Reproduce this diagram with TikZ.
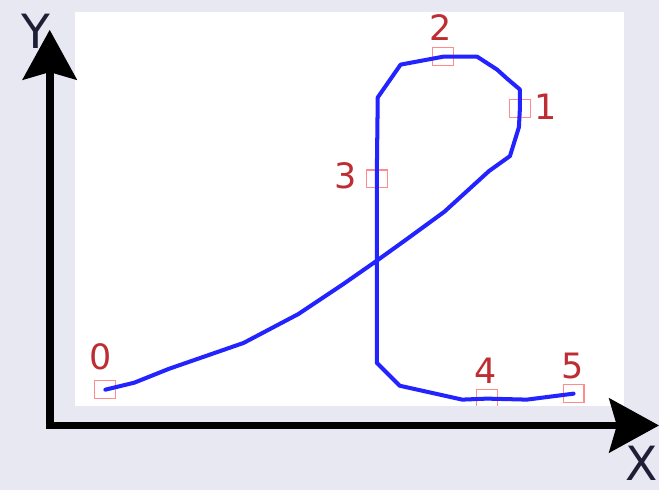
\documentclass[tikz,border=0pt]{standalone}
\usepackage{fontspec}
\setmainfont{DejaVu Sans}
\usetikzlibrary{arrows.meta}
\definecolor{bgcol}{RGB}{232,232,242}
\definecolor{ptred}{RGB}{190,45,50}
\definecolor{boxred}{RGB}{255,140,140}
\definecolor{axtext}{RGB}{30,30,55}
\definecolor{pathblue}{RGB}{35,35,255}

\begin{document}
\begin{tikzpicture}[x=0.02cm, y=-0.02cm,
  axis/.style={line width=4.5pt, line cap=rect, -{Stealth[length=1cm, width=1.08cm, inset=0.15cm]}},
  axlbl/.style={text=axtext, font=\fontsize{27}{27}\selectfont, inner sep=0pt},
  ptbox/.style={draw=boxred, line width=0.6pt, minimum width=0.42cm, minimum height=0.36cm, inner sep=0pt},
  ptlbl/.style={text=ptred, font=\fontsize{20}{20}\selectfont, inner sep=0pt},
  stroke/.style={pathblue, line width=2.3pt, line join=round, line cap=round}]
  \fill[bgcol] (0,0) rectangle (663,493);
  \fill[white] (75,12) rectangle (628,408);

  % key points of the stroke
  \coordinate (c0) at (106,392);
  \coordinate (c1) at (523,109);
  \coordinate (c2) at (446,57);
  \coordinate (c3) at (379,180);
  \coordinate (c4) at (490,401);
  \coordinate (c5) at (577,396);

  \begin{scope}
    \clip (75,12) rectangle (628,408);
    \foreach \i in {0,...,5}
      \node[ptbox] (p\i) at (c\i) {};
    \draw[stroke] (c0) -- (135,385) -- (170,371) -- (245,345) -- (300,316)
      -- (345,286) -- (378,263) -- (410,240) -- (447,213) -- (492,172)
      -- (513,157) -- (522,128) -- (c1) -- (523,90) -- (510,79) -- (500,70)
      -- (480,57) -- (c2) -- (403,65) -- (380,98) -- (c3) -- (379,365)
      -- (402,388) -- (465,402) -- (c4) -- (530,402) -- (c5);
  \end{scope}

  \node[ptlbl] (l0) at (101,359) {0};
  \node[ptlbl] (l1) at (549,107) {1};
  \node[ptlbl] (l2) at (443,28) {2};
  \node[ptlbl] (l3) at (348,177) {3};
  \node[ptlbl] (l4) at (489,373) {4};
  \node[ptlbl] (l5) at (576,368) {5};

  % axes
  \coordinate (O) at (50,428);
  \coordinate (xend) at (663,428);
  \coordinate (yend) at (50,30);
  \draw[axis] (O) -- (xend);
  \draw[axis] (O) -- (yend);
  \node[axlbl] (ylab) at (36,31) {Y};
  \node[axlbl] (xlab) at (645,466) {X};
\end{tikzpicture}
\end{document}
